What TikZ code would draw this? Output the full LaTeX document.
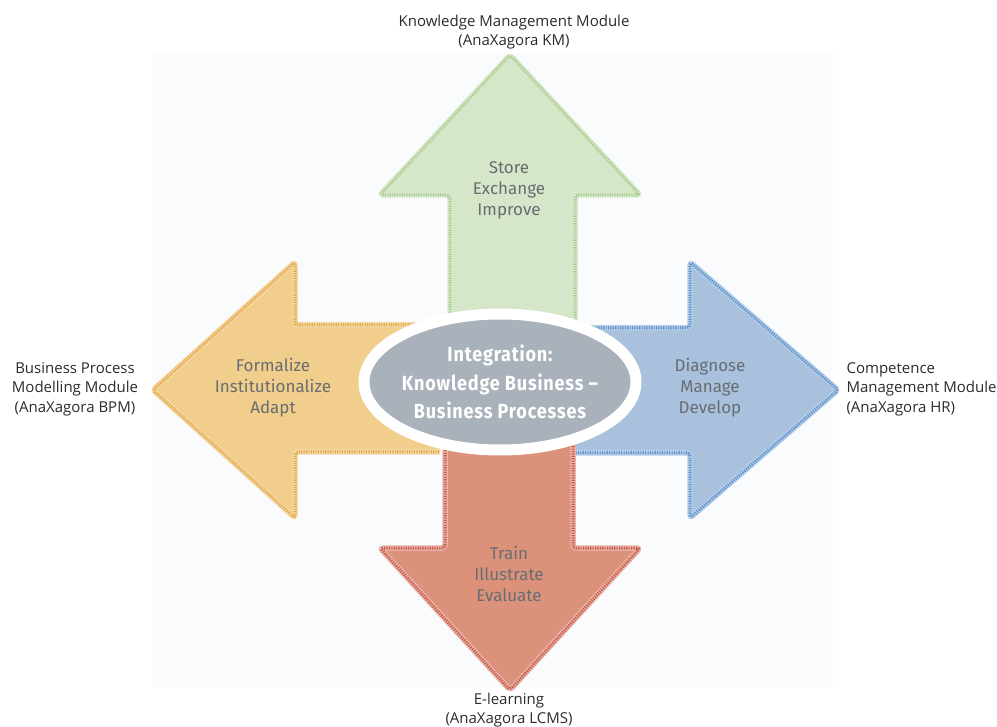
\documentclass[tikz,border=0pt]{standalone}
\usepackage{fontspec}
\setmainfont{Open Sans}
\newfontfamily\stepfont{Fira Sans}
\newfontfamily\corefont[FakeStretch=0.88, LetterSpace=4]{Fira Sans}
\usepackage{tikz}
\usetikzlibrary{shapes.geometric, shadows, positioning}

\definecolor{bgpanel}{HTML}{FAFBFD}
\definecolor{kmfill}{HTML}{D6E6C8}
\definecolor{kmline}{HTML}{A6CB8C}
\definecolor{bpmfill}{HTML}{F2CE8C}
\definecolor{bpmline}{HTML}{E6A63C}
\definecolor{hrfill}{HTML}{AAC1DD}
\definecolor{hrline}{HTML}{5A8FCB}
\definecolor{lcmsfill}{HTML}{DC917A}
\definecolor{lcmsline}{HTML}{C9553F}
\definecolor{corefill}{HTML}{A9B1BA}
\definecolor{steptext}{HTML}{676D72}
\definecolor{labeltext}{HTML}{2B2B2B}

\tikzset{
  bigarrow/.style={fill=#1, line join=round, rounded corners=3pt},
  arrowrim/.style={draw=#1!45, line width=5.5pt, line join=round, rounded corners=3pt},
  arrowdots/.style={draw=#1, line width=3pt, dash pattern=on 1.1pt off 1.3pt, line join=round, rounded corners=3pt},
  steplabel/.style={align=center, text=steptext, font=\stepfont\fontsize{17}{21}\selectfont},
  modlabel/.style={align=center, text=labeltext, font=\fontsize{15}{19.5}\selectfont},
}

\begin{document}
\begin{tikzpicture}[x=1pt, y=-1pt]
  \useasboundingbox (0,0) rectangle (997,727);
  % faint panel behind the arrows
  \fill[bgpanel] (153,53) rectangle (833,687);

  % Business process modelling: arrow to the left
  \fill[bigarrow=bpmfill] (440,325) -- (295,325) -- (295,262) -- (153,390) -- (295,518) -- (295,452) -- (440,452);
  \draw[arrowrim=bpmline] (440,325) -- (295,325) -- (295,262) -- (153,390) -- (295,518) -- (295,452) -- (440,452);
  \draw[arrowdots=bpmline] (440,325) -- (295,325) -- (295,262) -- (153,390) -- (295,518) -- (295,452) -- (440,452);

  % Competence management: arrow to the right
  \fill[bigarrow=hrfill] (560,328) -- (690,328) -- (690,262) -- (838,390) -- (690,518) -- (690,453) -- (560,453);
  \draw[arrowrim=hrline] (560,328) -- (690,328) -- (690,262) -- (838,390) -- (690,518) -- (690,453) -- (560,453);
  \draw[arrowdots=hrline] (560,328) -- (690,328) -- (690,262) -- (838,390) -- (690,518) -- (690,453) -- (560,453);

  % Knowledge management: arrow upwards
  \fill[bigarrow=kmfill] (450,370) -- (450,195) -- (380,195) -- (510,55) -- (640,195) -- (575,195) -- (575,370);
  \draw[arrowrim=kmline] (450,370) -- (450,195) -- (380,195) -- (510,55) -- (640,195) -- (575,195) -- (575,370);
  \draw[arrowdots=kmline] (450,370) -- (450,195) -- (380,195) -- (510,55) -- (640,195) -- (575,195) -- (575,370);

  % E-learning: arrow downwards
  \fill[bigarrow=lcmsfill] (445,400) -- (445,548) -- (380,548) -- (510,690) -- (640,548) -- (573,548) -- (573,400);
  \draw[arrowrim=lcmsline] (445,400) -- (445,548) -- (380,548) -- (510,690) -- (640,548) -- (573,548) -- (573,400);
  \draw[arrowdots=lcmsline] (445,400) -- (445,548) -- (380,548) -- (510,690) -- (640,548) -- (573,548) -- (573,400);

  % Centre ellipse
  \node[ellipse, fill=corefill, draw=white, line width=11pt, inner sep=0pt,
        minimum width=272pt, minimum height=136pt,
        drop shadow={opacity=0.35, shadow xshift=3pt, shadow yshift=-4pt}] (core) at (500,382) {};
  \node[align=center, text=white,
        font=\corefont\bfseries\fontsize{20.5}{28.5}\selectfont] (coretitle) at (core.center)
    {Integration:\\Knowledge Business –\\Business Processes};

  % Activities on the arrows
  \node[steplabel] (km)   at (509,190) {Store\\Exchange\\Improve};
  \node[steplabel] (bpm)  at (273,388) {Formalize\\Institutionalize\\Adapt};
  \node[steplabel] (hr)   at (710,388) {Diagnose\\Manage\\Develop};
  \node[steplabel] (lcms) at (509,574) {Train\\Illustrate\\Evaluate};

  % Module names
  \node[modlabel] (kmmod)   at (514,32)  {Knowledge Management Module\\(AnaXagora KM)};
  \node[modlabel] (bpmmod)  at (75,389)  {Business Process\\Modelling Module\\(AnaXagora BPM)};
  \node[modlabel, align=left, anchor=west] (hrmod) at (843,389) {Competence\\Management Module\\(AnaXagora HR)};
  \node[modlabel] (lcmsmod) at (509,710) {E-learning\\(AnaXagora LCMS)};
\end{tikzpicture}
\end{document}
